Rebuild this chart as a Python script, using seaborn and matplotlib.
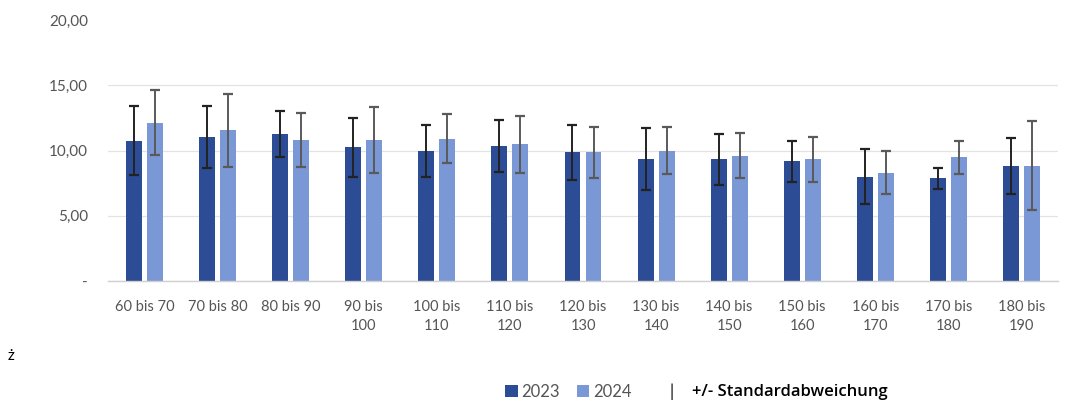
import matplotlib
matplotlib.use("Agg")
import matplotlib.pyplot as plt
import seaborn as sns
import pandas as pd
from matplotlib.patches import Patch

categories = ["60 bis 70", "70 bis 80", "80 bis 90", "90 bis\n100", "100 bis\n110",
              "110 bis\n120", "120 bis\n130", "130 bis\n140", "140 bis\n150",
              "150 bis\n160", "160 bis\n170", "170 bis\n180", "180 bis\n190"]
years = ["2023", "2024"]
values_2023 = [10.76, 11.04, 11.30, 10.25, 9.97, 10.38, 9.86, 9.33, 9.33, 9.18, 8.00, 7.88, 8.80]
sd_2023 = [2.66, 2.38, 1.76, 2.25, 1.99, 1.99, 2.10, 2.37, 1.97, 1.58, 2.10, 0.81, 2.14]
values_2024 = [12.12, 11.55, 10.79, 10.79, 10.91, 10.48, 9.86, 9.97, 9.61, 9.33, 8.28, 9.49, 8.84]
sd_2024 = [2.48, 2.80, 2.09, 2.53, 1.85, 2.20, 1.93, 1.80, 1.70, 1.72, 1.65, 1.27, 3.40]
y_ticks = [0, 5, 10, 15, 20]
y_tick_labels = ["-", "5,00", "10,00", "15,00", "20,00"]

dark = "#2C4C95"
light = "#7B98D6"

df = pd.DataFrame({
    "cat": categories * 2,
    "year": [years[0]] * len(categories) + [years[1]] * len(categories),
    "val": values_2023 + values_2024,
})

sns.set_theme(style="white")
plt.rcParams["font.family"] = ["Lato", "DejaVu Sans"]

fig = plt.figure(figsize=(10.85, 4.04), dpi=100)
ax = fig.add_axes([108 / 1085, 1 - 281 / 404, 950 / 1085, 261 / 404])

sns.barplot(data=df, x="cat", y="val", hue="year", order=categories, hue_order=years,
            palette=[dark, light], width=0.575, gap=0.24, ax=ax, legend=False,
            saturation=1, linewidth=0)

err_colors = ["#222222", "#5a5a5a"]
for cont, sds, ec in zip(ax.containers, [sd_2023, sd_2024], err_colors):
    xs = [b.get_x() + b.get_width() / 2 for b in cont]
    hs = [b.get_height() for b in cont]
    ax.errorbar(xs, hs, yerr=sds, fmt="none", ecolor=ec, elinewidth=1.4,
                capsize=3.5, capthick=1.6, zorder=5)

ax.set_ylim(0, 20)
ax.set_xlim(-0.5, len(categories) - 0.5)
ax.set_yticks(y_ticks)
ax.set_yticklabels(y_tick_labels)
ax.yaxis.grid(True, color="#e3e3e3", linewidth=0.9)
ax.yaxis.get_gridlines()[-1].set_visible(False)
ax.set_axisbelow(True)
for s in ["top", "right", "left"]:
    ax.spines[s].set_visible(False)
ax.spines["bottom"].set_color("#d0d0d0")
ax.spines["bottom"].set_linewidth(1.0)
ax.tick_params(axis="y", length=0, pad=14.5, labelsize=11, labelcolor="#555555")
ax.tick_params(axis="x", length=0, pad=14, labelsize=10.5, labelcolor="#555555")
for lbl in ax.get_xticklabels():
    lbl.set_linespacing(1.45)
    lbl.set_va("top")
ax.set_xlabel("")
ax.set_ylabel("")

handles = [Patch(facecolor=dark, edgecolor="none"),
           Patch(facecolor=light, edgecolor="none")]
leg = fig.legend(handles, years, loc="center left",
                 bbox_to_anchor=(505 / 1085, 1 - 392 / 404), ncol=2,
                 frameon=False, fontsize=12, handlelength=0.75, handleheight=0.75,
                 handletextpad=0.25, columnspacing=1.0, borderpad=0, borderaxespad=0)
for t in leg.get_texts():
    t.set_color("#555555")

fig.text(672 / 1085, 1 - 392 / 404, "|", fontsize=12, color="black",
         ha="center", va="center")
fig.text(692 / 1085, 1 - 392 / 404, "+/- Standardabweichung", fontsize=12,
         color="black", ha="left", va="center", fontweight="semibold",
         family=["Open Sans", "DejaVu Sans"])

fig.text(8 / 1085, 1 - 356 / 404, "ż", fontsize=11, color="black", ha="left", va="center")

fig.savefig("out.png", dpi=100)
